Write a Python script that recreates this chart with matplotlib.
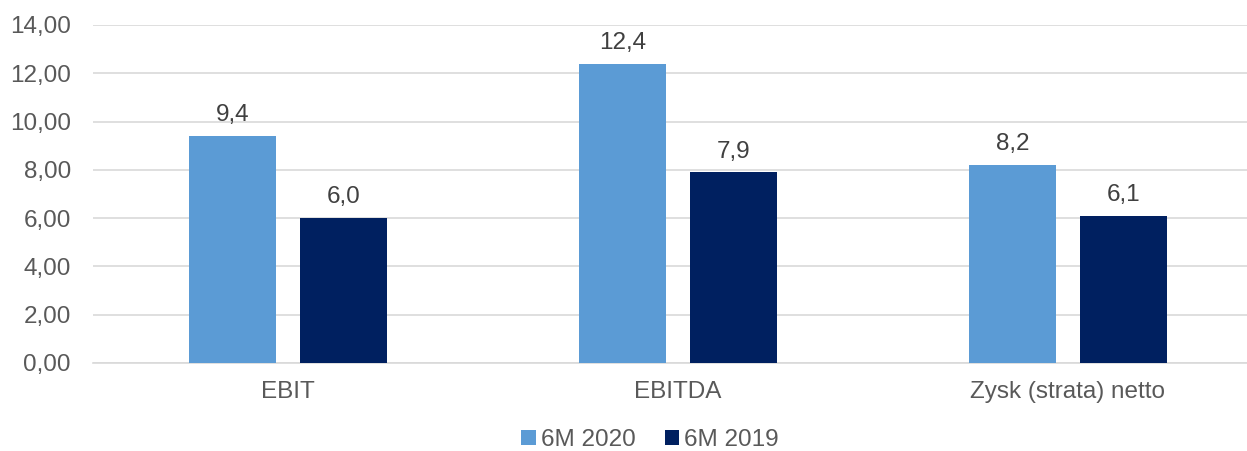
import numpy as np
import matplotlib
matplotlib.use("Agg")
import matplotlib.pyplot as plt

categories = ["EBIT", "EBITDA", "Zysk (strata) netto"]
values_2020 = [9.4, 12.4, 8.2]
values_2019 = [6.0, 7.9, 6.1]
series_names = ["6M 2020", "6M 2019"]
yticks = [0, 2, 4, 6, 8, 10, 12, 14]

col_2020 = "#5B9BD5"
col_2019 = "#002060"
text_col = "#595959"
fs = 17.5

plt.rcParams["font.family"] = ["Liberation Sans", "DejaVu Sans"]

fig = plt.figure(figsize=(12.47, 4.51), dpi=100)
# plot area in pixels: left 93, right ~1263 (chart cropped on the right), top 25, bottom 363
ax = fig.add_axes([93 / 1247, 1 - 363 / 451, 1170 / 1247, 338 / 451])

x = np.arange(len(categories))
w = 0.223
off = 0.142
b1 = ax.bar(x - off, values_2020, w, color=col_2020, label=series_names[0], zorder=3)
b2 = ax.bar(x + off, values_2019, w, color=col_2019, label=series_names[1], zorder=3)

for bars, vals in ((b1, values_2020), (b2, values_2019)):
    for rect, v in zip(bars, vals):
        ax.annotate(f"{v:.1f}".replace(".", ","),
                    (rect.get_x() + rect.get_width() / 2, v),
                    xytext=(0, 7), textcoords="offset points",
                    ha="center", va="bottom", fontsize=fs, color="#404040")

ax.set_xlim(-0.5, len(categories) - 0.5)
ax.set_ylim(0, 14)
ax.set_yticks(yticks)
ax.set_yticklabels([f"{t:.2f}".replace(".", ",") for t in yticks])
ax.set_xticks(x)
ax.set_xticklabels(categories)
ax.tick_params(axis="both", length=0, labelsize=fs, colors=text_col)
ax.tick_params(axis="y", pad=16)
ax.tick_params(axis="x", pad=13)

ax.grid(axis="y", color="#D9D9D9", linewidth=1.2, zorder=0)
for s in ("top", "right", "left"):
    ax.spines[s].set_visible(False)
ax.spines["bottom"].set_color("#D9D9D9")
ax.spines["bottom"].set_linewidth(1.2)

fig.legend(loc="center", bbox_to_anchor=(650 / 1247, 1 - 440 / 451), ncol=2,
           frameon=False, fontsize=fs, labelcolor=text_col,
           handlelength=0.6, handleheight=0.6, handletextpad=0.2, columnspacing=1.2)

fig.savefig("out.png", dpi=100)
